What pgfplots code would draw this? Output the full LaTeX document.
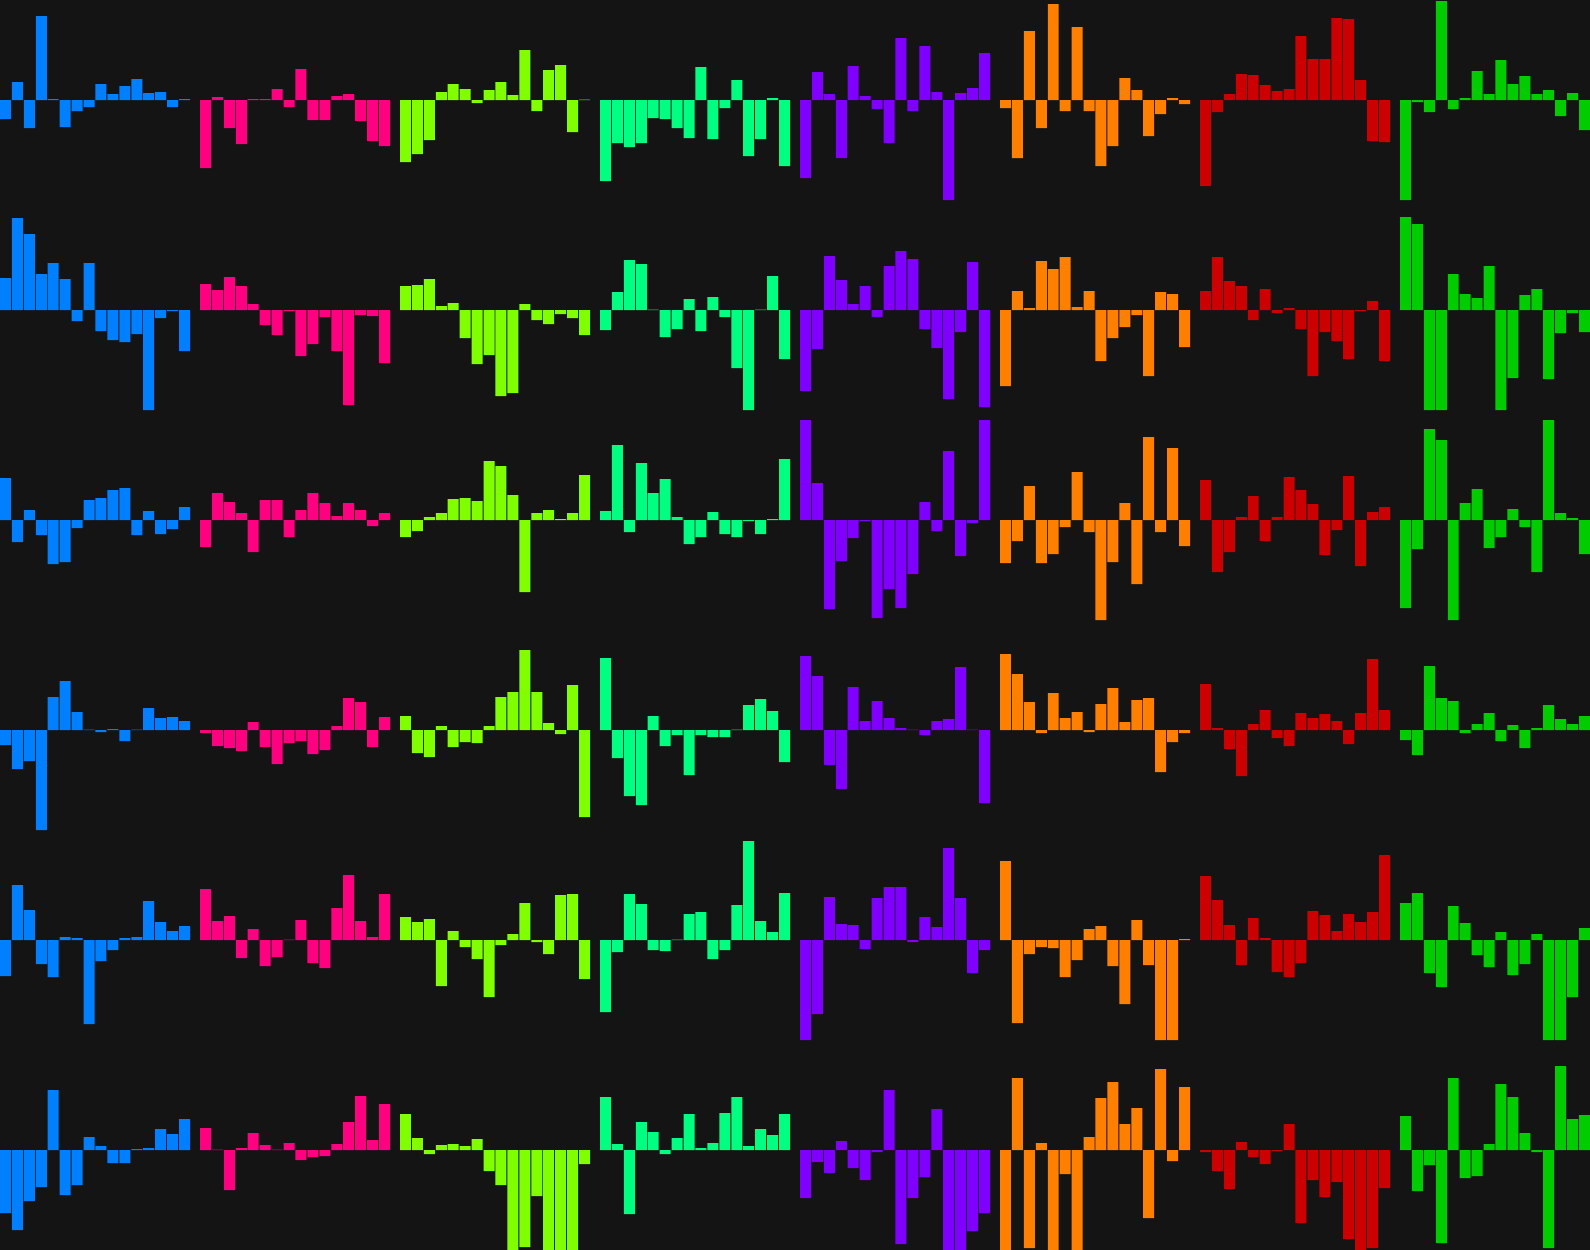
\documentclass[border=0pt]{standalone}
\usepackage{pgfplots}
\pgfplotsset{compat=1.18}
\usepgfplotslibrary{groupplots}
\usetikzlibrary{backgrounds}

\definecolor{bg}{HTML}{141414}
\definecolor{c1}{HTML}{0080FF}
\definecolor{c2}{HTML}{FF0080}
\definecolor{c3}{HTML}{80FF00}
\definecolor{c4}{HTML}{00FF80}
\definecolor{c5}{HTML}{8000FF}
\definecolor{c6}{HTML}{FF8000}
\definecolor{c7}{HTML}{CC0000}
\definecolor{c8}{HTML}{00CC00}

% one small bar panel: colour, 16 values separated by \\
\newcommand{\panel}[2]{%
  \nextgroupplot
  \addplot[fill=#1, draw=none] table[x expr=\coordindex, y index=0, header=false, row sep=\\] {#2};}

\begin{document}
\begin{tikzpicture}
\begin{groupplot}[
  group style={group size=8 by 6, horizontal sep=5pt, vertical sep=5pt},
  width=95pt, height=100pt, scale only axis,
  hide axis,
  xmin=-0.46, xmax=15.46, ymin=-1, ymax=1,
  ybar, /pgf/bar width=0.92,
]
% row 1
\panel{c1}{-0.19\\0.18\\-0.28\\0.84\\0.01\\-0.27\\-0.11\\-0.07\\0.16\\0.06\\0.14\\0.21\\0.07\\0.08\\-0.07\\0.01\\}
\panel{c2}{-0.68\\0.03\\-0.28\\-0.44\\0.01\\0.01\\0.11\\-0.07\\0.31\\-0.20\\-0.20\\0.04\\0.06\\-0.21\\-0.41\\-0.46\\}
\panel{c3}{-0.62\\-0.54\\-0.40\\0.08\\0.16\\0.11\\-0.03\\0.10\\0.18\\0.05\\0.50\\-0.11\\0.30\\0.35\\-0.32\\0.005\\}
\panel{c4}{-0.81\\-0.43\\-0.47\\-0.43\\-0.18\\-0.19\\-0.28\\-0.38\\0.33\\-0.39\\-0.08\\0.20\\-0.56\\-0.39\\0.02\\-0.66\\}
\panel{c5}{-0.78\\0.28\\0.06\\-0.58\\0.34\\0.04\\-0.09\\-0.43\\0.62\\-0.11\\0.54\\0.08\\-1.00\\0.07\\0.12\\0.47\\}
\panel{c6}{-0.08\\-0.58\\0.69\\-0.28\\0.96\\-0.11\\0.73\\-0.11\\-0.66\\-0.46\\0.22\\0.10\\-0.36\\-0.14\\0.02\\-0.04\\}
\panel{c7}{-0.86\\-0.12\\0.06\\0.26\\0.25\\0.15\\0.09\\0.11\\0.64\\0.41\\0.41\\0.82\\0.81\\0.20\\-0.41\\-0.42\\}
\panel{c8}{-1.00\\-0.02\\-0.12\\0.99\\-0.09\\0.02\\0.29\\0.06\\0.40\\0.16\\0.24\\0.06\\0.10\\-0.16\\0.07\\-0.30\\}
% row 2
\panel{c1}{0.32\\0.92\\0.76\\0.36\\0.47\\0.31\\-0.11\\0.47\\-0.21\\-0.30\\-0.32\\-0.24\\-1.00\\-0.08\\-0.01\\-0.41\\}
\panel{c2}{0.26\\0.20\\0.33\\0.24\\0.06\\-0.15\\-0.25\\-0.01\\-0.46\\-0.34\\-0.07\\-0.41\\-0.95\\-0.05\\-0.06\\-0.53\\}
\panel{c3}{0.24\\0.25\\0.31\\0.04\\0.07\\-0.28\\-0.54\\-0.45\\-0.86\\-0.83\\0.06\\-0.10\\-0.14\\-0.04\\-0.08\\-0.25\\}
\panel{c4}{-0.20\\0.18\\0.50\\0.46\\0.005\\-0.27\\-0.19\\0.11\\-0.21\\0.13\\-0.07\\-0.58\\-1.00\\0.005\\0.34\\-0.49\\}
\panel{c5}{-0.81\\-0.39\\0.54\\0.30\\0.06\\0.24\\-0.07\\0.44\\0.59\\0.51\\-0.19\\-0.38\\-0.89\\-0.22\\0.48\\-0.97\\}
\panel{c6}{-0.76\\0.19\\0.02\\0.49\\0.41\\0.53\\0.03\\0.19\\-0.51\\-0.28\\-0.17\\-0.05\\-0.66\\0.18\\0.16\\-0.37\\}
\panel{c7}{0.19\\0.53\\0.29\\0.24\\-0.10\\0.21\\-0.03\\0.02\\-0.19\\-0.66\\-0.22\\-0.31\\-0.49\\-0.01\\0.09\\-0.51\\}
\panel{c8}{0.93\\0.86\\-1.00\\-1.00\\0.36\\0.16\\0.12\\0.44\\-1.00\\-0.68\\0.15\\0.21\\-0.69\\-0.23\\-0.03\\-0.22\\}
% row 3
\panel{c1}{0.42\\-0.22\\0.10\\-0.15\\-0.44\\-0.42\\-0.08\\0.20\\0.22\\0.30\\0.32\\-0.15\\0.09\\-0.14\\-0.09\\0.13\\}
\panel{c2}{-0.27\\0.27\\0.18\\0.07\\-0.32\\0.20\\0.20\\-0.17\\0.10\\0.27\\0.17\\0.04\\0.17\\0.10\\-0.06\\0.07\\}
\panel{c3}{-0.17\\-0.11\\0.03\\0.07\\0.21\\0.22\\0.19\\0.59\\0.54\\0.25\\-0.72\\0.07\\0.10\\0.01\\0.07\\0.45\\}
\panel{c4}{0.09\\0.75\\-0.12\\0.57\\0.27\\0.41\\0.03\\-0.24\\-0.17\\0.08\\-0.14\\-0.17\\-0.01\\-0.14\\0.01\\0.61\\}
\panel{c5}{1.00\\0.37\\-0.89\\-0.41\\-0.18\\-0.01\\-0.98\\-0.69\\-0.88\\-0.54\\0.18\\-0.11\\0.69\\-0.36\\-0.03\\1.00\\}
\panel{c6}{-0.43\\-0.21\\0.34\\-0.43\\-0.34\\-0.07\\0.48\\-0.12\\-1.00\\-0.42\\0.17\\-0.64\\0.83\\-0.12\\0.72\\-0.26\\}
\panel{c7}{0.40\\-0.52\\-0.32\\0.03\\0.24\\-0.21\\0.03\\0.43\\0.30\\0.16\\-0.35\\-0.10\\0.44\\-0.46\\0.08\\0.13\\}
\panel{c8}{-0.88\\-0.29\\0.91\\0.80\\-1.00\\0.17\\0.31\\-0.28\\-0.17\\0.11\\-0.07\\-0.52\\1.00\\0.07\\0.02\\-0.34\\}
% row 4
\panel{c1}{-0.15\\-0.39\\-0.31\\-1.00\\0.33\\0.49\\0.18\\0.005\\-0.02\\0.01\\-0.11\\0.005\\0.22\\0.12\\0.13\\0.09\\}
\panel{c2}{-0.03\\-0.16\\-0.18\\-0.21\\0.08\\-0.17\\-0.34\\-0.13\\-0.11\\-0.24\\-0.20\\0.04\\0.32\\0.28\\-0.17\\0.13\\}
\panel{c3}{0.14\\-0.23\\-0.27\\0.04\\-0.17\\-0.12\\-0.13\\0.04\\0.33\\0.38\\0.80\\0.38\\0.07\\-0.04\\0.45\\-0.87\\}
\panel{c4}{0.72\\-0.28\\-0.66\\-0.75\\0.14\\-0.16\\-0.05\\-0.45\\-0.05\\-0.07\\-0.07\\0.005\\0.25\\0.31\\0.19\\-0.32\\}
\panel{c5}{0.74\\0.54\\-0.35\\-0.59\\0.43\\0.09\\0.29\\0.12\\0.02\\0.005\\-0.05\\0.09\\0.11\\0.63\\0.005\\-0.73\\}
\panel{c6}{0.76\\0.56\\0.28\\-0.03\\0.37\\0.12\\0.18\\-0.02\\0.26\\0.42\\0.08\\0.30\\0.32\\-0.42\\-0.12\\-0.03\\}
\panel{c7}{0.46\\0.02\\-0.19\\-0.46\\0.06\\0.20\\-0.08\\-0.16\\0.17\\0.12\\0.16\\0.09\\-0.14\\0.17\\0.71\\0.20\\}
\panel{c8}{-0.10\\-0.25\\0.64\\0.32\\0.29\\-0.03\\0.06\\0.17\\-0.11\\0.05\\-0.18\\0.02\\0.25\\0.11\\0.06\\0.14\\}
% row 5
\panel{c1}{-0.36\\0.55\\0.30\\-0.24\\-0.37\\0.03\\0.02\\-0.84\\-0.21\\-0.10\\0.02\\0.03\\0.39\\0.18\\0.09\\0.14\\}
\panel{c2}{0.51\\0.19\\0.24\\-0.18\\0.11\\-0.26\\-0.17\\0.005\\0.20\\-0.23\\-0.28\\0.32\\0.65\\0.19\\0.03\\0.46\\}
\panel{c3}{0.23\\0.18\\0.21\\-0.46\\0.09\\-0.07\\-0.19\\-0.57\\-0.05\\0.06\\0.37\\-0.02\\-0.14\\0.45\\0.46\\-0.39\\}
\panel{c4}{-0.72\\-0.12\\0.46\\0.36\\-0.10\\-0.11\\0.005\\0.26\\0.28\\-0.19\\-0.10\\0.35\\0.99\\0.19\\0.08\\0.47\\}
\panel{c5}{-1.00\\-0.74\\0.43\\0.16\\0.15\\-0.09\\0.42\\0.53\\0.53\\-0.02\\0.23\\0.13\\0.92\\0.42\\-0.33\\-0.10\\}
\panel{c6}{0.79\\-0.83\\-0.14\\-0.07\\-0.08\\-0.37\\-0.20\\0.11\\0.14\\-0.26\\-0.64\\0.20\\-0.25\\-1.00\\-1.00\\0.01\\}
\panel{c7}{0.64\\0.40\\0.15\\-0.25\\0.22\\0.02\\-0.32\\-0.37\\-0.23\\0.29\\0.25\\0.09\\0.26\\0.18\\0.28\\0.85\\}
\panel{c8}{0.37\\0.47\\-0.33\\-0.47\\0.34\\0.17\\-0.15\\-0.27\\0.08\\-0.35\\-0.24\\0.06\\-1.00\\-1.00\\-0.57\\0.12\\}
% row 6
\panel{c1}{-0.63\\-0.80\\-0.51\\-0.37\\0.60\\-0.45\\-0.35\\0.13\\0.04\\-0.13\\-0.13\\0.01\\0.02\\0.21\\0.16\\0.31\\}
\panel{c2}{0.22\\0.005\\-0.40\\0.02\\0.17\\0.05\\0.005\\0.07\\-0.10\\-0.07\\-0.06\\0.06\\0.28\\0.54\\0.10\\0.46\\}
\panel{c3}{0.36\\0.12\\-0.04\\0.05\\0.06\\0.04\\0.11\\-0.21\\-0.35\\-1.00\\-0.97\\-0.46\\-1.00\\-1.00\\-1.00\\-0.14\\}
\panel{c4}{0.53\\0.06\\-0.64\\0.28\\0.18\\-0.04\\0.12\\0.36\\0.02\\0.07\\0.37\\0.53\\0.04\\0.21\\0.15\\0.36\\}
\panel{c5}{-0.48\\-0.12\\-0.23\\0.09\\-0.18\\-0.30\\-0.02\\0.60\\-0.94\\-0.48\\-0.27\\0.41\\-1.00\\-1.00\\-0.81\\-0.63\\}
\panel{c6}{-1.00\\0.72\\-0.98\\0.07\\-1.00\\-0.24\\-1.00\\0.13\\0.52\\0.68\\0.26\\0.42\\-0.68\\0.81\\-0.11\\0.63\\}
\panel{c7}{-0.02\\-0.21\\-0.39\\0.08\\-0.07\\-0.14\\-0.01\\0.26\\-0.73\\-0.30\\-0.47\\-0.32\\-0.89\\-1.00\\-0.98\\-0.38\\}
\panel{c8}{0.34\\-0.41\\-0.15\\-0.93\\0.72\\-0.28\\-0.26\\0.06\\0.66\\0.53\\0.17\\-0.02\\-0.98\\0.84\\0.31\\0.35\\}
\end{groupplot}
\begin{pgfonlayer}{background}
  \fill[bg] (group c1r1.north west) rectangle (group c8r6.south east);
\end{pgfonlayer}
\end{tikzpicture}
\end{document}
